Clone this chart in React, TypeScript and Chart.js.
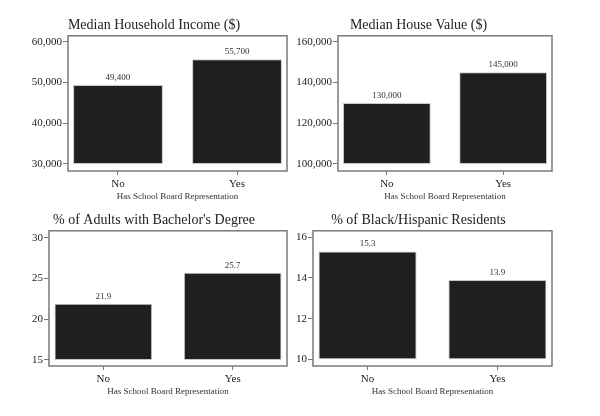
import React, { useEffect, useRef } from "react";
import { Chart, registerables } from "chart.js";

Chart.register(...registerables);

const categories = ["No", "Yes"];
const xAxisTitle = "Has School Board Representation";

const incomeTitle = "Median Household Income ($)";
const incomeValues = [49400, 55700];
const incomeBase = 30000;
const incomeTicks = [30000, 40000, 50000, 60000];

const houseTitle = "Median House Value ($)";
const houseValues = [130000, 145000];
const houseBase = 100000;
const houseTicks = [100000, 120000, 140000, 160000];

const bachelorTitle = "% of Adults with Bachelor's Degree";
const bachelorValues = [21.9, 25.7];
const bachelorBase = 15;
const bachelorTicks = [15, 20, 25, 30];

const minorityTitle = "% of Black/Hispanic Residents";
const minorityValues = [15.3, 13.9];
const minorityBase = 10;
const minorityTicks = [10, 12, 14, 16];

const FONT = "'Liberation Serif', 'Times New Roman', serif";

type PanelProps = {
  title: string;
  values: number[];
  base: number;
  ticks: number[];
  yMin: number;
  yMax: number;
  decimals: number;
  left: number;
  top: number;
  width: number;
  height: number;
  yAxisWidth: number;
  rightPad: number;
};

function fmt(v: number, decimals: number) {
  return v.toLocaleString("en-US", {
    minimumFractionDigits: decimals,
    maximumFractionDigits: decimals,
  });
}

function Panel(p: PanelProps) {
  const ref = useRef<HTMLCanvasElement | null>(null);
  useEffect(() => {
    if (!ref.current) return;
    const boxPlugin = {
      id: "boxPlugin",
      afterDatasetsDraw(chart: any) {
        const { ctx, chartArea } = chart;
        ctx.save();
        ctx.strokeStyle = "#7a7a7a";
        ctx.lineWidth = 1.5;
        ctx.strokeRect(
          chartArea.left,
          chartArea.top,
          chartArea.right - chartArea.left,
          chartArea.bottom - chartArea.top
        );
        const meta = chart.getDatasetMeta(0);
        ctx.fillStyle = "#333";
        ctx.font = `9px ${FONT}`;
        ctx.textAlign = "center";
        ctx.textBaseline = "bottom";
        meta.data.forEach((bar: any, i: number) => {
          ctx.fillText(fmt(p.values[i], p.decimals), bar.x, bar.y - 3);
        });
        ctx.restore();
      },
    };
    const chart = new Chart(ref.current, {
      type: "bar",
      data: {
        datasets: [
          {
            data: p.values.map((v, i) => ({ x: i, y: [p.base, v] })) as any,
            backgroundColor: "#1f1f1f",
            borderColor: "#c8c8c8",
            borderWidth: 1,
            borderSkipped: false,
            barPercentage: 0.755,
            categoryPercentage: 1,
          },
        ],
      },
      options: {
        responsive: false,
        animation: false,
        layout: { padding: { left: 0, right: p.rightPad, top: 0, bottom: 0 } },
        plugins: {
          legend: { display: false },
          tooltip: { enabled: false },
          title: {
            display: true,
            text: p.title,
            color: "#222",
            font: { family: FONT, size: 14, weight: "normal" },
            padding: { top: 17, bottom: 2 },
          },
        },
        scales: {
          x: {
            type: "linear",
            offset: false,
            min: -0.42,
            max: 1.42,
            afterBuildTicks: (scale: any) => {
              scale.ticks = categories.map((_, i) => ({ value: i }));
            },
            afterFit: (scale: any) => {
              scale.height = 34;
            },
            ticks: {
              callback: (v: any) => categories[v] ?? "",
              color: "#222",
              font: { family: FONT, size: 11 },
              padding: 3,
              maxRotation: 0,
              autoSkip: false,
            },
            grid: {
              display: true,
              drawOnChartArea: false,
              drawTicks: true,
              tickLength: 4,
              tickColor: "#7a7a7a",
              offset: false,
            },
            border: { display: false },
            title: {
              display: true,
              text: xAxisTitle,
              color: "#333",
              font: { family: FONT, size: 9 },
              padding: { top: 0, bottom: 3 },
            },
          },
          y: {
            type: "linear",
            min: p.yMin,
            max: p.yMax,
            afterBuildTicks: (scale: any) => {
              scale.ticks = p.ticks.map((v) => ({ value: v }));
            },
            afterFit: (scale: any) => {
              scale.width = p.yAxisWidth;
            },
            ticks: {
              callback: (v: any) => fmt(Number(v), 0),
              color: "#222",
              font: { family: FONT, size: 11 },
              padding: 1,
              autoSkip: false,
            },
            grid: {
              display: true,
              drawOnChartArea: false,
              drawTicks: true,
              tickLength: 5,
              tickColor: "#7a7a7a",
            },
            border: { display: false },
          },
        },
      } as any,
      plugins: [boxPlugin],
    });
    return () => chart.destroy();
  }, []);
  return (
    <canvas
      ref={ref}
      width={p.width}
      height={p.height}
      style={{
        position: "absolute",
        left: p.left,
        top: p.top,
        width: p.width,
        height: p.height,
      }}
    />
  );
}

export default function App() {
  return (
    <div
      style={{
        position: "absolute",
        left: 0,
        top: 0,
        width: 600,
        height: 416,
        background: "#fff",
      }}
    >
      <Panel
        title={incomeTitle}
        values={incomeValues}
        base={incomeBase}
        ticks={incomeTicks}
        yMin={28279}
        yMax={61475}
        decimals={0}
        left={21}
        top={0}
        width={274}
        height={205}
        yAxisWidth={47}
        rightPad={8}
      />
      <Panel
        title={houseTitle}
        values={houseValues}
        base={houseBase}
        ticks={houseTicks}
        yMin={96557}
        yMax={162951}
        decimals={0}
        left={285}
        top={0}
        width={275}
        height={205}
        yAxisWidth={53}
        rightPad={8}
      />
      <Panel
        title={bachelorTitle}
        values={bachelorValues}
        base={bachelorBase}
        ticks={bachelorTicks}
        yMin={14.26}
        yMax={30.86}
        decimals={1}
        left={21}
        top={195}
        width={274}
        height={205}
        yAxisWidth={28}
        rightPad={8}
      />
      <Panel
        title={minorityTitle}
        values={minorityValues}
        base={minorityBase}
        ticks={minorityTicks}
        yMin={9.67}
        yMax={16.32}
        decimals={1}
        left={285}
        top={195}
        width={275}
        height={205}
        yAxisWidth={28}
        rightPad={8}
      />
    </div>
  );
}
